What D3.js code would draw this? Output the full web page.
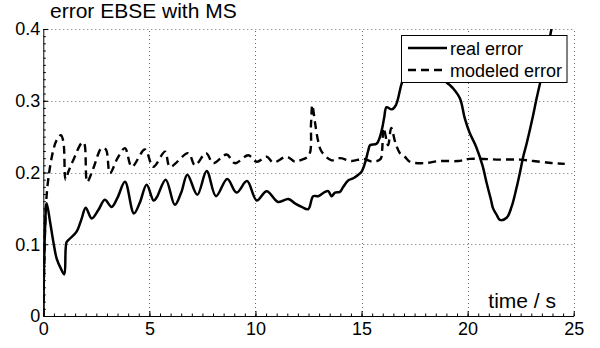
<!DOCTYPE html>
<html>
<head>
<meta charset="utf-8">
<script src="https://cdn.jsdelivr.net/npm/d3@7"></script>
<style>
  html, body { margin: 0; padding: 0; background: #fff; }
  svg { display: block; font-family: "Liberation Sans", Arial, Helvetica, sans-serif; }
</style>
</head>
<body>
<svg id="chart" width="600" height="348"></svg>
<script>
// ---------- data ----------
const titleText = "error EBSE with MS";
const xLabelText = "time / s";
const seriesNames = ["real error", "modeled error"];
const xTicks = [0, 5, 10, 15, 20, 25];
const xTickLabels = ["0", "5", "10", "15", "20", "25"];
const yTicks = [0, 0.1, 0.2, 0.3, 0.4];
const yTickLabels = ["0", "0.1", "0.2", "0.3", "0.4"];

const realT = [0, 0.08, 0.16, 0.32, 0.47, 0.63, 0.83, 0.99, 1.1, 1.26, 1.57, 1.8, 2.0, 2.28, 2.6, 2.9, 3.22, 3.5, 3.85, 4.27, 4.55, 4.87, 5.2, 5.34, 5.77, 6.2, 6.5, 6.79, 7.26, 7.7, 8.14, 8.67, 9.11, 9.6, 10.06, 10.53, 11.07, 11.55, 11.86, 12.18, 12.49, 12.72, 12.96, 13.28, 13.43, 13.59, 13.75, 13.98, 14.14, 14.37, 14.61, 14.85, 15.0, 15.16, 15.32, 15.4, 15.71, 15.87, 15.99, 16.07, 16.18, 16.42, 16.62, 16.89, 17.2, 17.6, 18.0, 18.4, 18.8, 19.0, 19.15, 19.32, 19.64, 19.87, 20.1, 20.4, 20.7, 20.9, 21.1, 21.2, 21.37, 21.52, 21.84, 22.07, 22.3, 22.46, 22.62, 22.78, 23.09, 23.25, 23.49, 23.7, 23.96, 24.2];
const realV = [0, 0.12, 0.157, 0.131, 0.104, 0.080, 0.066, 0.058, 0.103, 0.108, 0.1175, 0.135, 0.151, 0.136, 0.148, 0.162, 0.152, 0.165, 0.187, 0.143, 0.158, 0.183, 0.161, 0.165, 0.19, 0.155, 0.172, 0.197, 0.169, 0.202, 0.167, 0.191, 0.172, 0.188, 0.161, 0.174, 0.159, 0.163, 0.157, 0.152, 0.149, 0.167, 0.167, 0.173, 0.174, 0.167, 0.172, 0.173, 0.18, 0.189, 0.192, 0.197, 0.201, 0.213, 0.231, 0.238, 0.24, 0.25, 0.264, 0.277, 0.291, 0.288, 0.294, 0.324, 0.348, 0.362, 0.37, 0.366, 0.345, 0.326, 0.322, 0.317, 0.303, 0.275, 0.255, 0.236, 0.21, 0.185, 0.162, 0.150, 0.141, 0.134, 0.137, 0.152, 0.178, 0.199, 0.222, 0.240, 0.28, 0.303, 0.334, 0.36, 0.401, 0.43];

const modelT = [0, 0.12, 0.24, 0.47, 0.63, 0.83, 0.95, 1.05, 1.18, 1.41, 1.81, 1.92, 2.07, 2.36, 2.75, 2.95, 3.14, 3.5, 3.85, 4.17, 4.79, 5.18, 5.74, 5.97, 6.83, 7.15, 7.67, 8.01, 8.64, 9.03, 9.66, 10.06, 10.53, 10.84, 11.47, 11.86, 12.1, 12.52, 12.62, 12.68, 12.8, 12.96, 13.12, 13.59, 13.98, 14.53, 15.08, 15.55, 15.9, 15.97, 16.04, 16.25, 16.4, 16.6, 16.81, 17.04, 17.28, 17.91, 18.69, 19.56, 20.1, 21.52, 22.46, 23.09, 23.72, 24.03, 24.58];
const modelV = [0, 0.15, 0.192, 0.231, 0.245, 0.252, 0.242, 0.19, 0.201, 0.217, 0.241, 0.241, 0.187, 0.206, 0.234, 0.232, 0.199, 0.22, 0.234, 0.208, 0.232, 0.208, 0.229, 0.208, 0.227, 0.21, 0.227, 0.213, 0.225, 0.213, 0.224, 0.215, 0.222, 0.214, 0.222, 0.215, 0.217, 0.224, 0.269, 0.294, 0.271, 0.243, 0.229, 0.217, 0.22, 0.216, 0.219, 0.215, 0.219, 0.231, 0.262, 0.238, 0.262, 0.241, 0.227, 0.222, 0.215, 0.213, 0.216, 0.216, 0.219, 0.218, 0.218, 0.216, 0.214, 0.213, 0.212];

// ---------- layout ----------
const svg = d3.select("#chart");
const x = d3.scaleLinear().domain([0, 25]).range([43.3, 573.7]);
const y = d3.scaleLinear().domain([0, 0.4]).range([316, 29]);
const fontTick = 18, fontLabel = 21;

svg.append("defs").append("clipPath").attr("id", "plotclip")
  .append("rect").attr("x", x(0)).attr("y", y(0.4)).attr("width", x(25) - x(0)).attr("height", y(0) - y(0.4));

// grid
const grid = svg.append("g").attr("stroke", "#666").attr("stroke-width", 1).attr("stroke-dasharray", "1,3");
grid.selectAll(".gx").data(xTicks.filter(d => d > 0)).join("line")
  .attr("x1", d => Math.round(x(d)) + 0.5).attr("x2", d => Math.round(x(d)) + 0.5)
  .attr("y1", y(0)).attr("y2", y(0.4));
grid.selectAll(".gy").data(yTicks.filter(d => d > 0)).join("line")
  .attr("y1", d => Math.round(y(d)) + 0.5).attr("y2", d => Math.round(y(d)) + 0.5)
  .attr("x1", x(0)).attr("x2", x(25));

// axes
const minorX = d3.range(0, 25.001, 0.5);
const minorY = d3.range(0, 0.4001, 0.01);
const gxMinor = svg.append("g").attr("transform", `translate(0,${y(0)})`)
  .call(d3.axisBottom(x).tickValues(minorX).tickSize(-2.5).tickSizeOuter(0).tickFormat(""));
gxMinor.select(".domain").remove();
const gyMinor = svg.append("g").attr("transform", `translate(${x(0)},0)`)
  .call(d3.axisLeft(y).tickValues(minorY).tickSize(-2.5).tickSizeOuter(0).tickFormat(""));
gyMinor.select(".domain").remove();

const gx = svg.append("g").attr("transform", `translate(0,${y(0)})`)
  .call(d3.axisBottom(x).tickValues(xTicks).tickSize(-5).tickSizeOuter(0).tickPadding(6)
    .tickFormat((d, i) => xTickLabels[i]));
const gy = svg.append("g").attr("transform", `translate(${x(0)},0)`)
  .call(d3.axisLeft(y).tickValues(yTicks).tickSize(-5).tickSizeOuter(0).tickPadding(3)
    .tickFormat((d, i) => yTickLabels[i]));
[gx, gy, gxMinor, gyMinor].forEach(g => {
  g.selectAll("line").attr("stroke", "#000");
  g.selectAll(".domain").attr("stroke", "#000");
  g.selectAll("text").attr("fill", "#000").attr("font-size", fontTick)
    .attr("font-family", "Liberation Sans, Arial, sans-serif");
});

// lines
const realData = realT.map((t, i) => [t, realV[i]]);
const modelData = modelT.map((t, i) => [t, modelV[i]]);
const line = d3.line().x(d => x(d[0])).y(d => y(d[1])).curve(d3.curveCatmullRom.alpha(0.5));
const plot = svg.append("g").attr("clip-path", "url(#plotclip)");
plot.append("path").datum(modelData).attr("d", line)
  .attr("fill", "none").attr("stroke", "#000").attr("stroke-width", 2.4)
  .attr("stroke-dasharray", "8,5").attr("stroke-linejoin", "round");
plot.append("path").datum(realData).attr("d", line)
  .attr("fill", "none").attr("stroke", "#000").attr("stroke-width", 2.5)
  .attr("stroke-linejoin", "round");

// title & label
svg.append("text").attr("x", 50).attr("y", 18).attr("font-size", fontLabel).attr("fill", "#000").text(titleText);
svg.append("text").attr("x", 556).attr("y", 308).attr("text-anchor", "end")
  .attr("font-size", fontLabel).attr("fill", "#000").text(xLabelText);

// legend
const lg = svg.append("g");
lg.append("rect").attr("x", 401.5).attr("y", 35.5).attr("width", 165.5).attr("height", 47)
  .attr("fill", "#fff").attr("stroke", "#000").attr("stroke-width", 1);
const rows = [{ y: 48, dash: null }, { y: 70, dash: "8,5" }];
rows.forEach((r, i) => {
  lg.append("line").attr("x1", 408).attr("x2", 447).attr("y1", r.y).attr("y2", r.y)
    .attr("stroke", "#000").attr("stroke-width", 2.4).attr("stroke-dasharray", r.dash);
  lg.append("text").attr("x", 450).attr("y", r.y + 6.5).attr("font-size", fontTick)
    .attr("fill", "#000").text(seriesNames[i]);
});
</script>
</body>
</html>
